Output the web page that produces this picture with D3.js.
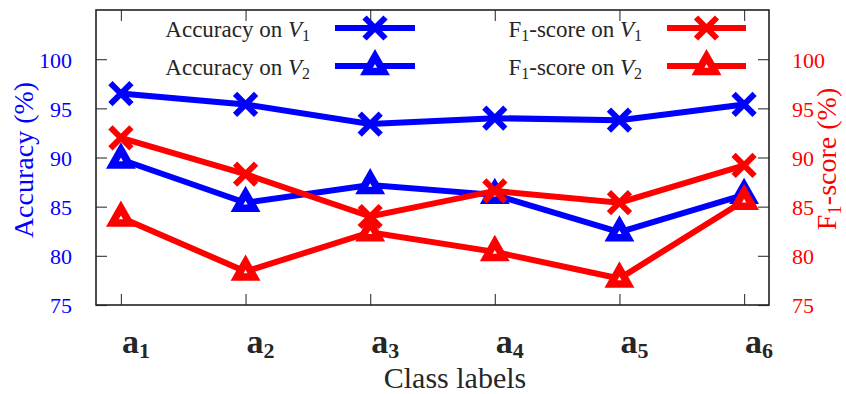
<!DOCTYPE html>
<html><head><meta charset="utf-8">
<script src="https://cdn.jsdelivr.net/npm/d3@7"></script>
<style>body{margin:0;background:#fff}svg{display:block}svg text{font-family:"Liberation Serif","Times New Roman",Times,serif}</style>
</head><body>
<svg id="c" width="846" height="394"></svg>
<script>
const categories = ["1","2","3","4","5","6"];
const accV1 = [96.5, 95.4, 93.4, 94.0, 93.8, 95.4];
const accV2 = [89.8, 85.4, 87.2, 86.2, 82.4, 86.2];
const f1V1  = [92.0, 88.3, 84.0, 86.6, 85.4, 89.2];
const f1V2  = [83.9, 78.4, 82.4, 80.4, 77.7, 85.6];
const yTicks = [75, 80, 85, 90, 95, 100];

const svg = d3.select("#c");
const L = 96, R = 769, T = 10, B = 305;
const x = d3.scaleLinear().domain([0.8, 6.2]).range([L, R]);
const y = d3.scaleLinear().domain([75, 105]).range([B, T]);
const BLUE = "#0000ff", RED = "#ff0000", INK = "#262626";

function styleAxis(g, col){
  g.select(".domain").remove();
  g.attr("font-family", null).attr("font-size", null);
  g.selectAll(".tick line").attr("stroke", "#444").attr("stroke-width", 1.2);
  g.selectAll(".tick text").attr("fill", col).style("font-size", "22px");
}
const idx = categories.map((c,i)=>i+1);
svg.append("g").attr("transform",`translate(${L},0)`)
  .call(d3.axisLeft(y).tickValues(yTicks).tickSize(-11).tickPadding(24))
  .call(g=>styleAxis(g, BLUE));
svg.append("g").attr("transform",`translate(${R},0)`)
  .call(d3.axisRight(y).tickValues(yTicks).tickSize(-11).tickPadding(23))
  .call(g=>styleAxis(g, RED));
svg.append("g").attr("transform",`translate(0,${B})`)
  .call(d3.axisBottom(x).tickValues(idx).tickSize(-11).tickFormat(""))
  .call(g=>styleAxis(g, INK));
svg.append("g").attr("transform",`translate(0,${T})`)
  .call(d3.axisTop(x).tickValues(idx).tickSize(-11).tickFormat(""))
  .call(g=>styleAxis(g, INK));
svg.selectAll("g text").attr("dy", "0.36em");

svg.append("rect").attr("x", L).attr("y", T).attr("width", R-L).attr("height", B-T)
  .attr("fill", "none").attr("stroke", "#222").attr("stroke-width", 1.6);

// x category labels
const xl = svg.append("g");
categories.forEach((c,i)=>{
  const t = xl.append("text").attr("x", x(i+1)+1).attr("y", 353)
    .style("font-weight", "bold").attr("fill", INK);
  t.append("tspan").style("font-size", "34px").text("a");
  t.append("tspan").style("font-size", "22px").attr("dy", 5).text(c);
});
svg.append("text").attr("x", 455).attr("y", 388).attr("text-anchor","middle")
  .style("font-size","30px").attr("fill", INK).text("Class labels");

// axis titles
svg.append("text").attr("transform","translate(33,160) rotate(-90)").attr("text-anchor","middle")
  .style("font-size","28px").attr("fill", BLUE).text("Accuracy (%)");
const rt = svg.append("text").attr("transform","translate(836,159) rotate(-90)").attr("text-anchor","middle")
  .style("font-size","28px").attr("fill", RED);
rt.append("tspan").text("F");
rt.append("tspan").style("font-size","19px").attr("dy",5).text("1");
rt.append("tspan").attr("dy",-5).text("-score (%)");

// markers
function drawCross(g, cx, cy, col){
  const s = 10.5;
  g.append("path").attr("d",`M${cx-s},${cy-s}L${cx+s},${cy+s}M${cx-s},${cy+s}L${cx+s},${cy-s}`)
    .attr("stroke", col).attr("stroke-width", 6).attr("fill","none");
}
function drawTri(g, cx, cy, col){
  g.append("path").attr("d",`M${cx},${cy-9.5}L${cx+8.5},${cy+5.5}L${cx-8.5},${cy+5.5}Z`)
    .attr("stroke", col).attr("stroke-width", 7.5).attr("fill","#fff").attr("stroke-linejoin","miter");
}
const series = [
  {vals: accV1, col: BLUE, mk: drawCross},
  {vals: accV2, col: BLUE, mk: drawTri},
  {vals: f1V1, col: RED, mk: drawCross},
  {vals: f1V2, col: RED, mk: drawTri},
];
const line = d3.line().x((d,i)=>x(i+1)).y(d=>y(d));
series.forEach(s=>{
  const g = svg.append("g");
  g.append("path").attr("d", line(s.vals)).attr("fill","none").attr("stroke", s.col)
    .attr("stroke-width", 6).attr("stroke-linejoin","miter");
  s.vals.forEach((v,i)=>s.mk(g, x(i+1), y(v), s.col));
});

// legend
const legend = [
  {label:"Accuracy on ", sub:"1", tx:310, lx0:335, lx1:415, ly:28, col:BLUE, mk:drawCross, f:false},
  {label:"Accuracy on ", sub:"2", tx:310, lx0:335, lx1:415, ly:66, col:BLUE, mk:drawTri, f:false},
  {label:"-score on ", sub:"1", tx:642, lx0:667, lx1:746, ly:28, col:RED, mk:drawCross, f:true},
  {label:"-score on ", sub:"2", tx:642, lx0:667, lx1:746, ly:66, col:RED, mk:drawTri, f:true},
];
legend.forEach(d=>{
  const g = svg.append("g");
  const t = g.append("text").attr("x", d.tx).attr("y", d.ly+9).attr("text-anchor","end")
    .style("font-size","23px").attr("fill", INK);
  if (d.f){ t.append("tspan").text("F"); t.append("tspan").style("font-size","16px").attr("dy",4).text("1"); t.append("tspan").attr("dy",-4).text(d.label); }
  else t.append("tspan").text(d.label);
  t.append("tspan").style("font-style","italic").text("V");
  t.append("tspan").style("font-size","16px").attr("dy",4).text(d.sub);
  g.append("line").attr("x1", d.lx0).attr("x2", d.lx1).attr("y1", d.ly).attr("y2", d.ly)
    .attr("stroke", d.col).attr("stroke-width", 6);
  d.mk(g, (d.lx0+d.lx1)/2, d.ly, d.col);
});
</script>
</body></html>
